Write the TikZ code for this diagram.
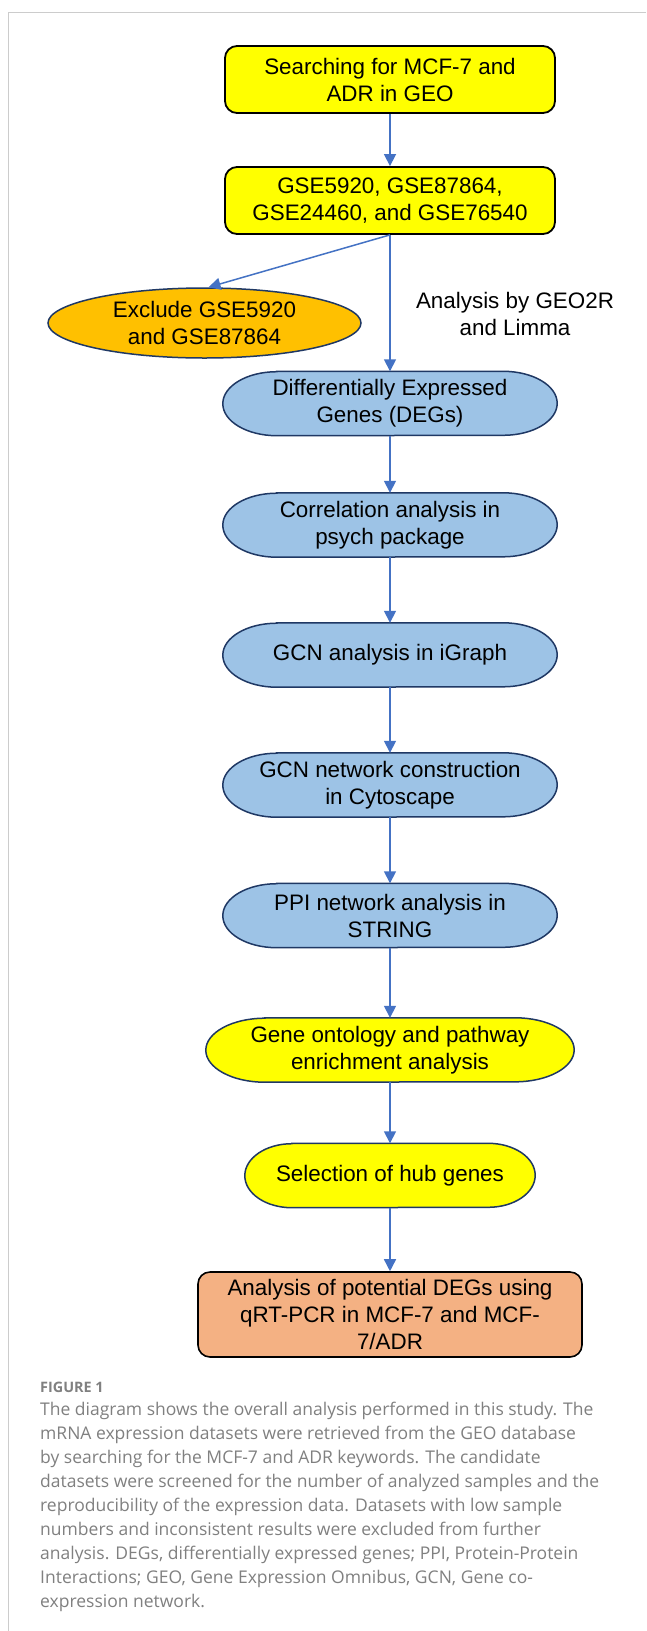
\documentclass[tikz,border=0pt]{standalone}
\usepackage{fontspec}
\setmainfont{Liberation Sans}
\newfontfamily\capfont{Open Sans}
\usetikzlibrary{arrows.meta,shapes.geometric,backgrounds}
\definecolor{yel}{HTML}{FFFF00}
\definecolor{org}{HTML}{FFC000}
\definecolor{lblue}{HTML}{9DC3E6}
\definecolor{peach}{HTML}{F4B183}
\definecolor{navy}{HTML}{1F3864}
\definecolor{arr}{HTML}{4472C4}
\definecolor{capgray}{HTML}{808080}
\definecolor{framegray}{HTML}{CCCCCC}
\tikzset{
  diagfont/.style={font=\fontsize{22.4}{27}\selectfont},
  ybox/.style={diagfont, draw=black, line width=1.8pt, fill=yel, rounded corners=12pt,
    minimum width=330pt, minimum height=67pt, align=center, inner sep=0pt},
  finbox/.style={diagfont, draw=black, line width=1.6pt, fill=peach, rounded corners=12pt,
    minimum width=384pt, minimum height=85pt, align=center, inner sep=0pt},
  exclnode/.style={diagfont, ellipse, draw=navy, line width=1.5pt, fill=org,
    minimum width=313pt, minimum height=70pt, align=center, inner sep=0pt},
  termtext/.style={diagfont, rectangle, minimum height=64pt, inner sep=0pt, align=center},
  termline/.style={draw=navy, line width=1.5pt},
  flow/.style={draw=arr, line width=1.5pt, -{Triangle[width=12pt,length=12pt]}},
  labtext/.style={diagfont, align=center, inner sep=0pt},
  captext/.style={font=\capfont\fontsize{17.5}{24}\selectfont, text=capgray, anchor=base west, inner sep=0pt},
  framestyle/.style={draw=framegray, line width=1pt}
}
\newcommand\termshape[3]{%
  \path[termline, fill=#3] ([xshift=#2]#1.north west) -- ([xshift=-#2]#1.north east)
    arc[start angle=90, end angle=-90, x radius=#2, y radius=32pt]
    -- ([xshift=#2]#1.south west)
    arc[start angle=270, end angle=90, x radius=#2, y radius=32pt] -- cycle;}
\begin{document}
\begin{tikzpicture}[x=1pt,y=1pt]
\useasboundingbox (0,0) rectangle (646,-1631);
\begin{pgfonlayer}{background}
\fill[white] (0,0) rectangle (646,-1631);
\end{pgfonlayer}
\coordinate (fTL) at (8,-12);
\coordinate (fTR) at (646,-12);
\coordinate (fBL) at (8,-1631);
\draw[framestyle] (fTR) -- (fTL) -- (fBL);

\node[ybox] (box1) at (390,-79.5) {Searching for MCF-7 and\\ADR in GEO};
\node[ybox] (box2) at (390,-200.5) {GSE5920, GSE87864,\\GSE24460, and GSE76540};
\node[exclnode] (excl) at (204.5,-323) {Exclude GSE5920\\and GSE87864};
\node[labtext] (lab) at (515,-313.5) {Analysis by GEO2R\\and Limma};
\node[termtext, minimum width=334pt] (deg) at (390,-403.5) {Differentially Expressed\\Genes (DEGs)};
\node[termtext, minimum width=334pt] (corr) at (390,-525) {Correlation analysis in\\psych package};
\node[termtext, minimum width=334pt] (gcna) at (390,-655) {GCN analysis in iGraph};
\node[termtext, minimum width=334pt] (gcnb) at (390,-785) {GCN network construction\\in Cytoscape};
\node[termtext, minimum width=334pt] (ppi) at (390,-915.5) {PPI network analysis in\\STRING};
\node[termtext, minimum width=368pt] (go) at (390,-1050) {Gene ontology and pathway\\enrichment analysis};
\node[termtext, minimum width=290pt] (sel) at (390,-1175.5) {Selection of hub genes};
\node[finbox] (fin) at (390,-1314.5) {Analysis of potential DEGs using\\qRT-PCR in MCF-7 and MCF-\\7/ADR};

\begin{pgfonlayer}{background}
\termshape{deg}{54pt}{lblue}
\termshape{corr}{54pt}{lblue}
\termshape{gcna}{54pt}{lblue}
\termshape{gcnb}{54pt}{lblue}
\termshape{ppi}{54pt}{lblue}
\termshape{go}{59pt}{yel}
\termshape{sel}{47pt}{yel}
\end{pgfonlayer}

\draw[flow] (box1) -- (box2);
\draw[flow] (box2.south) -- ([xshift=4pt]excl.north);
\draw[flow] (box2) -- (deg);
\draw[flow] (deg) -- (corr);
\draw[flow] (corr) -- (gcna);
\draw[flow] (gcna) -- (gcnb);
\draw[flow] (gcnb) -- (ppi);
\draw[flow] (ppi) -- (go);
\draw[flow] (go) -- (sel);
\draw[flow] (sel) -- (fin);

\node[captext, font=\capfont\bfseries\fontsize{14.4}{18}\selectfont] (figlab) at (40,-1392) {FIGURE 1};
\foreach \t [count=\i] in {
  {The diagram shows the overall analysis performed in this study. The},
  {mRNA expression datasets were retrieved from the GEO database},
  {by searching for the MCF-7 and ADR keywords. The candidate},
  {datasets were screened for the number of analyzed samples and the},
  {reproducibility of the expression data. Datasets with low sample},
  {numbers and inconsistent results were excluded from further},
  {analysis. DEGs, differentially expressed genes; PPI, Protein-Protein},
  {Interactions; GEO, Gene Expression Omnibus, GCN, Gene co-},
  {expression network.}}
  \node[captext] (cap\i) at (40,{-1415-24*(\i-1)}) {\t};
\end{tikzpicture}
\end{document}
